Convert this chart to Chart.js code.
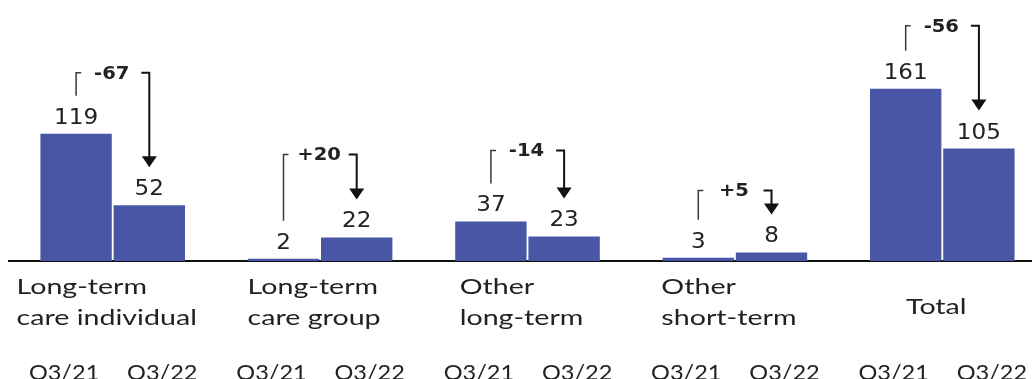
<!DOCTYPE html>
<html>
<head>
<meta charset="utf-8">
<script src="https://cdn.jsdelivr.net/npm/chart.js@4/dist/chart.umd.min.js"></script>
<style>
  html, body { margin: 0; padding: 0; background: #fff; overflow: hidden; }
  #wrap { position: absolute; left: 0; top: 0; width: 1056px; height: 379px; }
</style>
</head>
<body>
<div id="wrap"><canvas id="chart" width="1056" height="379"></canvas></div>
<script>
// Portfolio segments compared quarter over quarter
const categories = [
  ['Long-term', 'care individual'],
  ['Long-term', 'care group'],
  ['Other', 'long-term'],
  ['Other', 'short-term'],
  ['Total']
];
const periods = ['Q3/21', 'Q3/22'];
const q321 = [119, 2, 37, 3, 161];
const q322 = [52, 22, 23, 8, 105];

// Layout of the change brackets (height above the taller bar, px)
const bracketRise = [61, 83, 71, 62, 63];

const BAR = '#4956A5';
const INK = '#222222';

function stretchText(ctx, text, x, y, sx, align) {
  ctx.save();
  ctx.translate(x, y);
  ctx.scale(sx, 1);
  ctx.textAlign = align;
  ctx.fillText(text, 0, 0);
  ctx.restore();
}

const annotations = {
  id: 'annotations',
  afterDraw(chart) {
    const ctx = chart.ctx;
    const m0 = chart.getDatasetMeta(0).data;
    const m1 = chart.getDatasetMeta(1).data;
    const xs = chart.scales.x;
    const bottom = chart.chartArea.bottom;

    ctx.save();
    ctx.textBaseline = 'alphabetic';

    // value labels above bars
    ctx.fillStyle = INK;
    ctx.font = '21px "DejaVu Sans"';
    [[m0, q321], [m1, q322]].forEach(([bars, vals]) => {
      bars.forEach((b, i) => stretchText(ctx, String(vals[i]), b.x, b.y - 10, 1.1, 'center'));
    });

    // change brackets
    categories.forEach((_, i) => {
      const a = m0[i], b = m1[i];
      const top = Math.min(a.y, b.y) - bracketRise[i];
      const leftBottom = a.y - 38;
      const tip = b.y - 38;

      ctx.strokeStyle = '#3a3a3a';
      ctx.lineWidth = 1.5;
      ctx.beginPath();
      ctx.moveTo(a.x, leftBottom);
      ctx.lineTo(a.x, top);
      ctx.lineTo(a.x + 5, top);
      ctx.stroke();

      ctx.strokeStyle = '#111';
      ctx.lineWidth = 2;
      ctx.beginPath();
      ctx.moveTo(b.x - 8, top);
      ctx.lineTo(b.x, top);
      ctx.lineTo(b.x, tip - 10);
      ctx.stroke();

      ctx.fillStyle = '#111';
      ctx.beginPath();
      ctx.moveTo(b.x - 7.5, tip - 11);
      ctx.lineTo(b.x + 7.5, tip - 11);
      ctx.lineTo(b.x, tip);
      ctx.closePath();
      ctx.fill();

      const diff = q322[i] - q321[i];
      ctx.fillStyle = INK;
      ctx.font = 'bold 17px "DejaVu Sans"';
      stretchText(ctx, (diff > 0 ? '+' : '') + diff, (a.x + b.x) / 2 - 1, top + 6, 1.15, 'center');
    });

    // category labels: left-aligned lines, block centred on the group
    ctx.fillStyle = INK;
    ctx.font = '22px Lato';
    const sx = 1.3;
    categories.forEach((lines, i) => {
      const cx = xs.getPixelForValue(i);
      const w = Math.max(...lines.map(t => ctx.measureText(t).width)) * sx;
      const x0 = cx - w / 2 - 6;
      if (lines.length === 1) {
        stretchText(ctx, lines[0], x0, bottom + 53, sx, 'left');
      } else {
        lines.forEach((t, k) => stretchText(ctx, t, x0, bottom + 33 + k * 31, sx, 'left'));
      }
    });

    // period labels under each bar
    ctx.font = '21px Lato';
    m0.forEach(bar => stretchText(ctx, periods[0], bar.x - 12, bottom + 119, 1.12, 'center'));
    m1.forEach(bar => stretchText(ctx, periods[1], bar.x + 13, bottom + 119, 1.12, 'center'));

    ctx.restore();
  }
};

new Chart(document.getElementById('chart'), {
  type: 'bar',
  data: {
    labels: categories,
    datasets: [
      { label: periods[0], data: q321, backgroundColor: BAR },
      { label: periods[1], data: q322, backgroundColor: BAR }
    ]
  },
  options: {
    responsive: false,
    animation: false,
    devicePixelRatio: 1,
    categoryPercentage: 0.706,
    barPercentage: 0.975,
    layout: { padding: { left: 9, right: 10, top: 2, bottom: 118 } },
    plugins: { legend: { display: false }, tooltip: { enabled: false } },
    scales: {
      x: {
        grid: { display: false, drawTicks: false },
        ticks: { display: false },
        border: { display: true, color: '#111', width: 2 }
      },
      y: { display: false, min: 0, max: 242 }
    }
  },
  plugins: [annotations]
});
</script>
</body>
</html>
